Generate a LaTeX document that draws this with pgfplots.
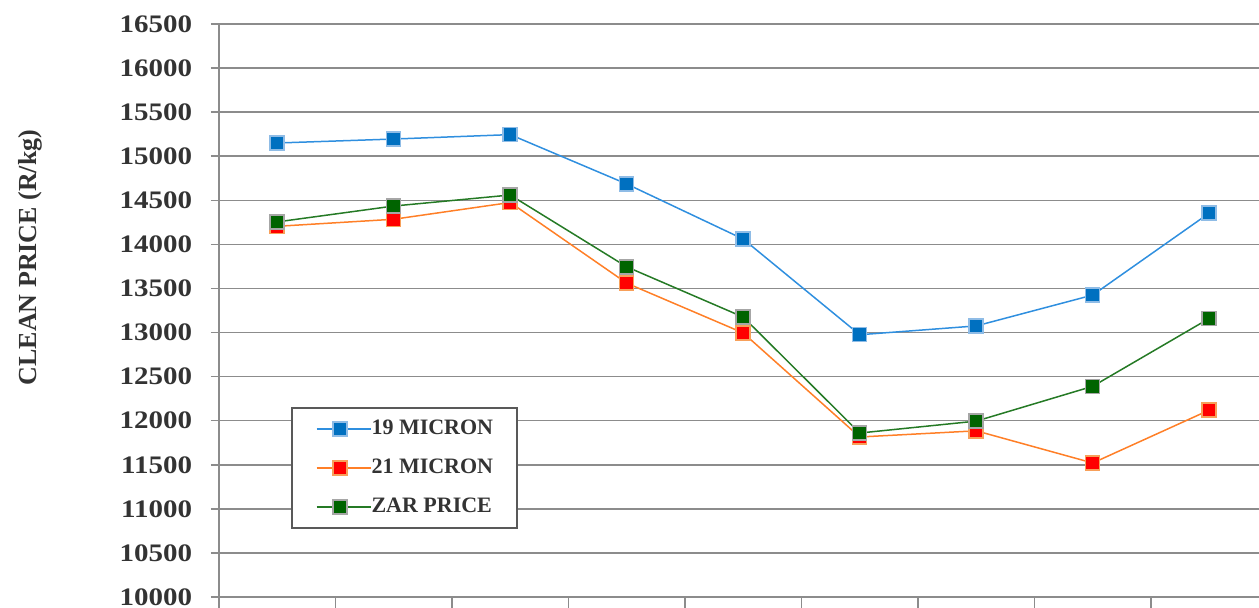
\documentclass[border=0pt]{standalone}
\usepackage{fontspec}
\setmainfont{Liberation Serif}
\newfontfamily\tickfont[FakeStretch=1.15]{Liberation Serif}
\usepackage{pgfplots}
\pgfplotsset{compat=1.18}

\definecolor{bluefill}{HTML}{0070C0}
\definecolor{blueedge}{HTML}{8FBCE6}
\definecolor{blueline}{HTML}{2F8FDF}
\definecolor{redfill}{HTML}{FF0000}
\definecolor{rededge}{HTML}{F7A05A}
\definecolor{redline}{HTML}{FF7F27}
\definecolor{greenfill}{HTML}{006400}
\definecolor{greenedge}{HTML}{A6A6A6}
\definecolor{greenline}{HTML}{257A25}
\definecolor{gridgray}{HTML}{8C8C8C}
\definecolor{textgray}{HTML}{333333}

\begin{document}
\begin{tikzpicture}
\begin{axis}[
    at={(0,0)}, anchor=south west,
    scale only axis,
    width=524.25pt, height=286.5pt,
    xmin=0.5, xmax=9.5,
    ymin=10000, ymax=16500,
    axis lines=left,
    axis line style={-, gridgray, line width=0.75pt},
    xtick={0.5,1.5,...,9.5},
    xticklabels={},
    ytick={10000,10500,...,16500},
    tick align=outside,
    tick style={gridgray, line width=0.75pt},
    xtick style={/pgfplots/major tick length=6pt},
    ytick style={/pgfplots/major tick length=4pt},
    ymajorgrids,
    grid style={gridgray, line width=0.75pt},
    scaled y ticks=false,
    yticklabel style={font=\tickfont\bfseries\fontsize{12.6}{14}\selectfont, text=textgray,
        anchor=east, inner sep=0pt, xshift=-9pt,
        /pgf/number format/.cd, fixed, set thousands separator={}, assume math mode=true},
    ylabel={CLEAN PRICE (R/kg)},
    every axis y label/.style={at={(axis description cs:-0.1803,0.5925)}, rotate=90, anchor=center,
        font=\bfseries\fontsize{13.0}{15}\selectfont, text=textgray},
    legend style={at={(axis description cs:0.0687,0.1187)}, anchor=south west,
        draw=black!65, line width=1pt, fill=white,
        inner xsep=12pt, inner ysep=0.75pt, row sep=0pt,
        nodes={minimum height=19.5pt, inner sep=0pt, font=\bfseries\fontsize{11}{12}\selectfont, text=textgray}},
    legend cell align=left,
    legend image code/.code={%
        \path (0pt,0pt) -- (27pt,0pt);
        \draw[mark repeat=2, mark phase=2] plot coordinates {(0pt,0pt) (11.5pt,0pt) (23pt,0pt)};},
]
\addplot[blueline, line width=0.75pt, mark=square*, mark size=3.5pt,
    mark options={fill=bluefill, draw=blueedge, line width=0.75pt}] coordinates {
    (1,15150) (2,15195) (3,15245) (4,14685) (5,14060) (6,12975) (7,13075) (8,13425) (9,14355)
};
\addlegendentry{19 MICRON}
\addplot[redline, line width=0.75pt, mark=square*, mark size=3.5pt,
    mark options={fill=redfill, draw=rededge, line width=0.75pt}] coordinates {
    (1,14205) (2,14285) (3,14475) (4,13560) (5,12995) (6,11815) (7,11885) (8,11520) (9,12120)
};
\addlegendentry{21 MICRON}
\addplot[greenline, line width=0.75pt, mark=square*, mark size=3.5pt,
    mark options={fill=greenfill, draw=greenedge, line width=0.75pt}] coordinates {
    (1,14255) (2,14435) (3,14560) (4,13745) (5,13175) (6,11860) (7,11995) (8,12390) (9,13160)
};
\addlegendentry{ZAR PRICE}
\end{axis}
\pgfresetboundingbox
\path[use as bounding box] (-109.5pt,-5.5pt) rectangle (520pt,298.5pt);
\end{tikzpicture}
\end{document}
